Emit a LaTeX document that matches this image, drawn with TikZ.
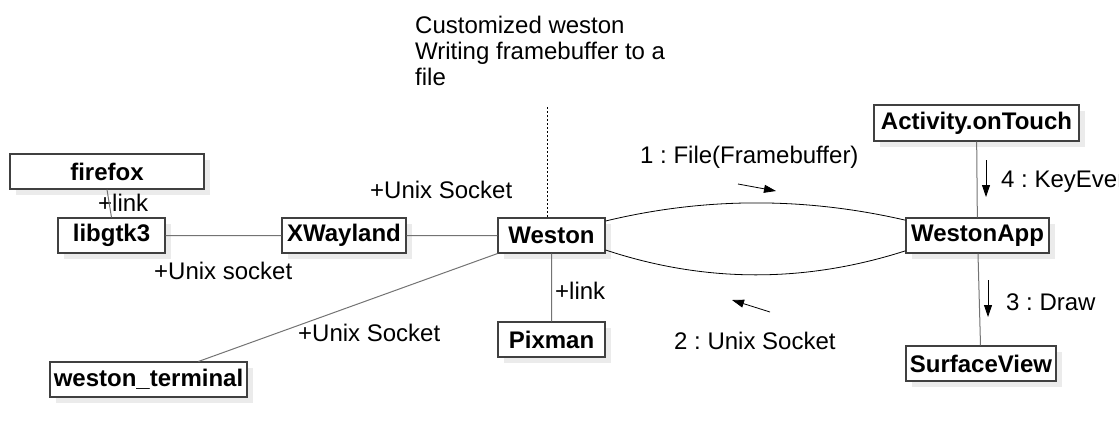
\documentclass[tikz,border=0pt]{standalone}
\usepackage{fontspec}
\setmainfont{Liberation Sans}
\usetikzlibrary{arrows.meta,shadows}

\tikzset{
  box/.style={draw=black!75,line width=1.1pt,fill=white,inner sep=0pt,
    minimum height=35pt,font=\bfseries,
    drop shadow={shadow xshift=6pt,shadow yshift=-6pt,fill=black!8,opacity=1}},
  lbl/.style={anchor=west,inner sep=0pt},
  link/.style={draw=black!55,line width=1pt},
  msg/.style={-{Triangle[length=12pt,width=8pt]},line width=0.8pt}
}

\begin{document}
\frenchspacing
\fontsize{24}{26}\selectfont
\begin{tikzpicture}[x=1pt,y=-1pt]
\useasboundingbox (0,0) rectangle (1119,437);

\node[box,minimum width=194pt] (firefox) at (107,171.5) {firefox};
\node[box,minimum width=107pt] (libgtk3) at (111.5,235.5) {libgtk3};
\node[box,minimum width=124pt] (xwayland) at (344,235.5) {XWayland};
\node[box,minimum width=107pt] (weston) at (551.5,235.5) {Weston};
\node[box,minimum width=107pt] (pixman) at (551.5,339.5) {Pixman};
\node[box,minimum width=197pt] (terminal) at (148.5,379.5) {weston\_terminal};
\node[box,minimum width=205pt,minimum height=36pt] (touch) at (976.5,123) {Activity.onTouch};
\node[box,minimum width=143pt] (app) at (977.5,235.5) {WestonApp};
\node[box,minimum width=150pt] (surface) at (981,363.5) {SurfaceView};

\node[lbl,align=left,anchor=north west] (note) at (415,16)
  {Customized weston\\Writing framebuffer to a\\file};
\coordinate (dots) at (547,107);

\node[lbl] (l1) at (98,203) {+link};
\node[lbl] (l2) at (370,190) {+Unix Socket};
\node[lbl] (l3) at (154,271) {+Unix socket};
\node[lbl] (l4) at (298,333) {+Unix Socket};
\node[lbl] (l5) at (555,291) {+link};
\node[lbl] (m1) at (640,157) {1 : File(Framebuffer)};
\node[lbl] (m2) at (674,341) {2 : Unix Socket};
\node[lbl] (m4) at (1001,182) {4 : KeyEvent};
\node[lbl] (m3) at (1006,302) {3 : Draw};

% connectors
\path[link] (firefox.south) -- (libgtk3.north)
            (libgtk3) -- (xwayland)
            (xwayland) -- (weston)
            (weston.south west) -- (terminal)
            (weston) -- (pixman)
            (touch) -- (app)
            (app) -- (surface);
\draw[line width=0.8pt,dash pattern=on 2pt off 2pt] (dots) -- (dots |- weston.north);
\draw[line width=0.8pt] (weston.15) .. controls (705,197) and (805,197) .. (app.168);
\draw[line width=0.8pt] (weston.-15) .. controls (705,283) and (805,283) .. (app.192);

% messages
\coordinate (a1) at (738,184); \coordinate (b1) at (776,191);
\coordinate (a2) at (770,312); \coordinate (b2) at (732,300);
\coordinate (a4) at (986,160); \coordinate (b4) at (986,197);
\coordinate (a3) at (988,280); \coordinate (b3) at (988,317);
\draw[msg] (a1) -- (b1);
\draw[msg] (a2) -- (b2);
\draw[msg] (a4) -- (b4);
\draw[msg] (a3) -- (b3);
\end{tikzpicture}
\end{document}
